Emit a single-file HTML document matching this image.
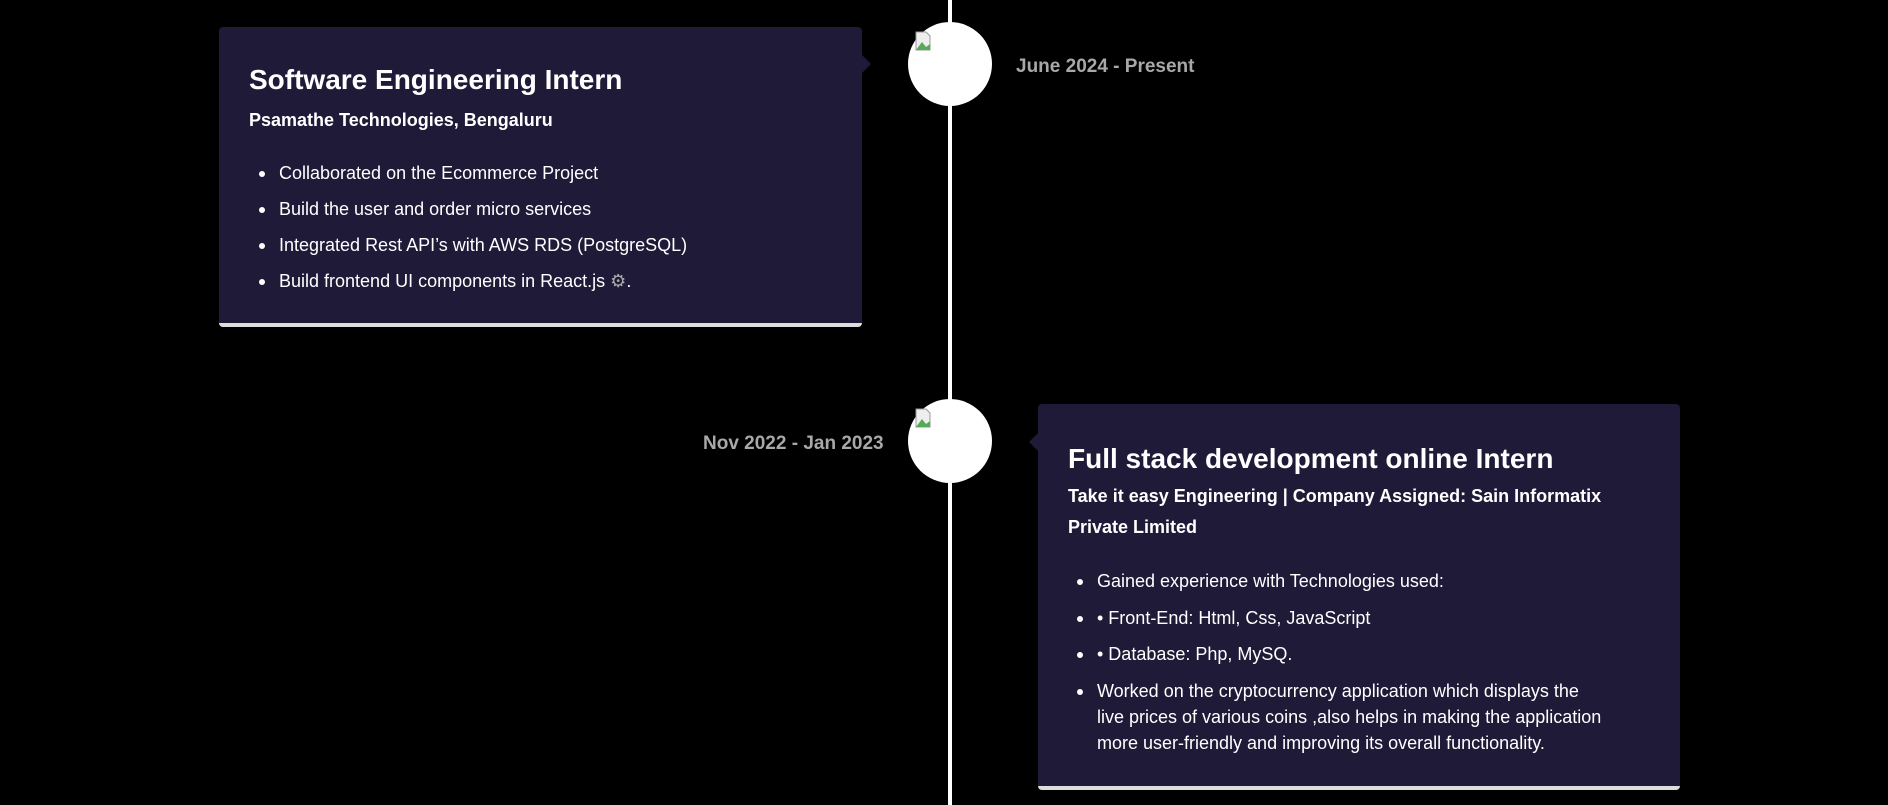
<!DOCTYPE html>
<html><head><meta charset="utf-8"><style>
*{margin:0;padding:0;box-sizing:border-box}
body{width:1888px;height:805px;background:#000;position:relative;overflow:hidden;font-family:"Liberation Sans",sans-serif;color:#fff}
.line{position:absolute;left:948px;top:0;width:4px;height:805px;background:#fff}
.circ{position:absolute;width:84px;height:84px;border-radius:50%;background:#fff;left:908px}
.circ .ic{position:absolute;left:6px;top:8px;width:20px;height:22px}
.card{position:absolute;background:#1e1a38;border-radius:4px;border-bottom:4px solid #ddd}
.card h3{position:absolute;font-size:28px;font-weight:bold;white-space:nowrap}
.card h4{position:absolute;font-size:18px;font-weight:bold;line-height:31px}
.card .li{position:absolute;font-size:18px;line-height:26px;white-space:nowrap}
.card .li:before{content:"";position:absolute;left:-20px;top:11px;width:6px;height:6px;border-radius:50%;background:#fff}
.date{position:absolute;color:#a8a8a8;font-weight:bold;font-size:19px;white-space:nowrap}
.arr{position:absolute;width:0;height:0;border-top:9px solid transparent;border-bottom:9px solid transparent}
</style></head><body>
<div class="line"></div>

<div class="card" style="left:219px;top:27px;width:643px;height:300px">
<h3 style="left:30px;top:37px">Software Engineering Intern</h3>
<h4 style="left:30px;top:78px">Psamathe Technologies, Bengaluru</h4>
<div class="li" style="left:60px;top:133px">Collaborated on the Ecommerce Project</div>
<div class="li" style="left:60px;top:169px">Build the user and order micro services</div>
<div class="li" style="left:60px;top:205px">Integrated Rest API’s with AWS RDS (PostgreSQL)</div>
<div class="li" style="left:60px;top:241px">Build frontend UI components in React.js <span style="color:#aaa">⚙</span>.</div>
</div>
<div class="arr" style="left:862px;top:55px;border-left:9px solid #1e1a38"></div>

<div class="circ" style="top:22px"><svg class="ic" viewBox="0 0 20 22"><path d="M2 2h10l4 4v14H2z" fill="#eee" stroke="#999"/><path d="M2 20l6-8 4 5 4-3v6z" fill="#5a5"/></svg></div>
<div class="date" style="left:1016px;top:56px">June 2024 - Present</div>

<div class="circ" style="top:399px"><svg class="ic" viewBox="0 0 20 22"><path d="M2 2h10l4 4v14H2z" fill="#eee" stroke="#999"/><path d="M2 20l6-8 4 5 4-3v6z" fill="#5a5"/></svg></div>
<div class="date" style="left:703px;top:433px">Nov 2022 - Jan 2023</div>

<div class="arr" style="left:1029px;top:433px;border-right:9px solid #1e1a38"></div>
<div class="card" style="left:1038px;top:404px;width:642px;height:386px">
<h3 style="left:30px;top:39px">Full stack development online Intern</h3>
<h4 style="left:30px;top:77px">Take it easy Engineering | Company Assigned: Sain Informatix<br>Private Limited</h4>
<div class="li" style="left:59px;top:164px">Gained experience with Technologies used:</div>
<div class="li" style="left:59px;top:201px">• Front-End: Html, Css, JavaScript</div>
<div class="li" style="left:59px;top:237px">• Database: Php, MySQ.</div>
<div class="li" style="left:59px;top:274px">Worked on the cryptocurrency application which displays the<br>live prices of various coins ,also helps in making the application<br>more user-friendly and improving its overall functionality.</div>
</div>
</body></html>
